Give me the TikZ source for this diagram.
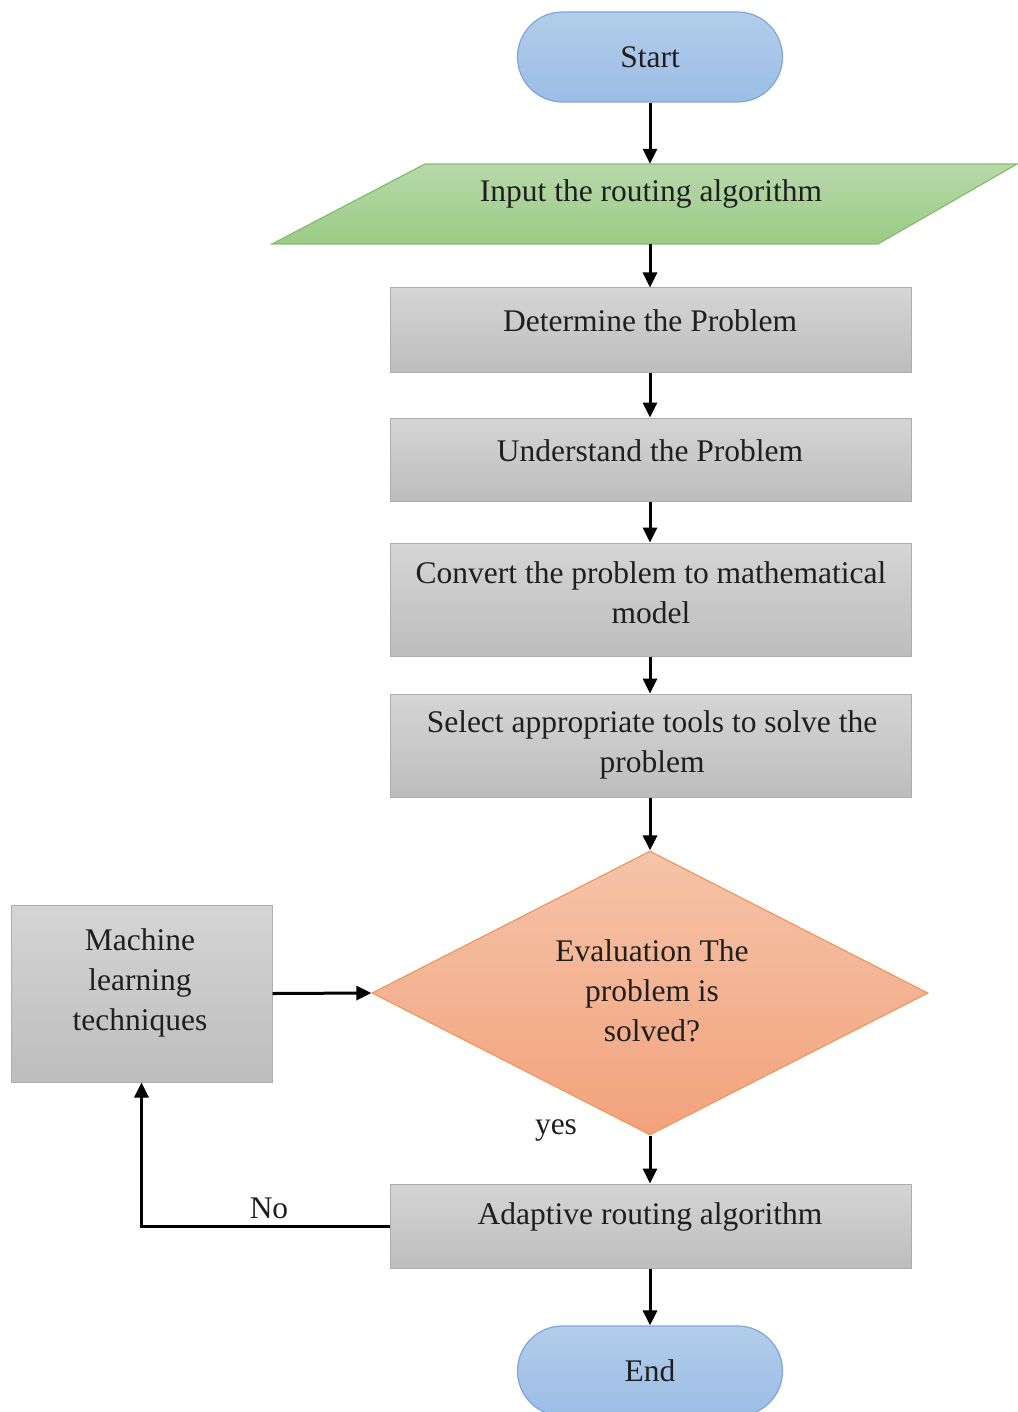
\documentclass[tikz,border=0pt]{standalone}
\usepackage{fontspec}
\setmainfont{Liberation Serif}
\usetikzlibrary{shapes.geometric,arrows.meta}
\definecolor{termt}{HTML}{B3CDEB}
\definecolor{termbt}{HTML}{9BBDE5}
\definecolor{termb}{HTML}{7EA6DA}
\definecolor{grt}{HTML}{B8D9AA}
\definecolor{grbt}{HTML}{9ACB85}
\definecolor{grb}{HTML}{82BD6A}
\definecolor{boxt}{HTML}{D5D5D5}
\definecolor{boxbt}{HTML}{BDBDBD}
\definecolor{boxb}{HTML}{ADADAD}
\definecolor{ort}{HTML}{F5C4A8}
\definecolor{orbt}{HTML}{F2A27C}
\definecolor{orb}{HTML}{F0975E}
\begin{document}
\begin{tikzpicture}[x=1pt,y=-1pt,
  txt/.style={font=\fontsize{31.5}{40}\selectfont, align=center, inner sep=0pt, text=black!88},
  term/.style={draw=termb, line width=1.2pt, top color=termt, bottom color=termbt, rounded corners=45pt, minimum width=265pt, minimum height=90pt, inner sep=0pt, font=\fontsize{31.5}{40}\selectfont, text=black!88},
  gbox/.style={draw=boxb, line width=1pt, top color=boxt, bottom color=boxbt, minimum width=521pt, inner sep=0pt},
  arr/.style={line width=3pt, -{Triangle[length=15pt,width=14pt]}},
  lne/.style={line width=3pt}
]
\useasboundingbox (0,0) rectangle (1017,1412);
\fill[white] (0,0) rectangle (1017,1412);

% terminals
\node[term] (start) at (650,57) {Start};
\node[term] (end) at (650,1371) {End};

% input parallelogram
\draw[draw=grb, line width=1.2pt, top color=grt, bottom color=grbt] (425,164) -- (1017,164) -- (878,244) -- (272,244) -- cycle;
\node[minimum width=400pt, minimum height=80pt, inner sep=0pt] (input) at (650,204) {};
\node[txt] (inputtxt) at (651,194) {Input the routing algorithm};

% process boxes
\node[gbox, minimum height=84pt] (det) at (650.5,330) {};
\node[txt] (dettxt) at (650,321) {Determine the Problem};
\node[gbox, minimum height=83pt] (und) at (650.5,459.5) {};
\node[txt] (undtxt) at (650,451) {Understand the Problem};
\node[gbox, minimum height=113pt] (conv) at (650.5,599.5) {};
\node[txt] (convtxt) at (651,593) {Convert the problem to mathematical\\model};
\node[gbox, minimum height=103pt] (sel) at (650.5,745.5) {};
\node[txt] (seltxt) at (652,745) {Select appropriate tools to solve the\\problem};

% decision
\node[diamond, draw=orb, line width=1.2pt, top color=ort, bottom color=orbt, minimum width=556pt, minimum height=284pt, inner sep=0pt] (dia) at (650,993) {};
\node[txt] (diatxt) at (652,991) {Evaluation The\\problem is\\solved?};

% machine learning
\node[gbox, minimum width=261pt, minimum height=177pt] (mach) at (141.5,993.5) {};
\node[txt] (machtxt) at (140,983) {Machine\\learning\\techniques};

% adaptive
\node[gbox, minimum height=84pt] (adap) at (650.5,1226) {};
\node[txt] (adaptxt) at (650,1217) {Adaptive routing algorithm};

% labels
\node[txt] (yes) at (556,1130) {yes};
\node[txt] (no) at (269,1208) {No};

% connectors
\draw[arr] (start.south) -- (input.north);
\draw[arr] (input.south) -- (input.south |- det.north);
\draw[arr] (input.south |- det.south) -- (input.south |- und.north);
\draw[arr] (input.south |- und.south) -- (input.south |- conv.north);
\draw[arr] (input.south |- conv.south) -- (input.south |- sel.north);
\draw[arr] (input.south |- sel.south) -- (dia.north);
\draw[arr] (dia.south) -- (dia.south |- adap.north);
\draw[arr] (dia.south |- adap.south) -- (end.north);
\draw[arr] (adap.west) -| (mach.south);
\draw[arr] (mach.east) -- (dia.west);
\end{tikzpicture}
\end{document}
